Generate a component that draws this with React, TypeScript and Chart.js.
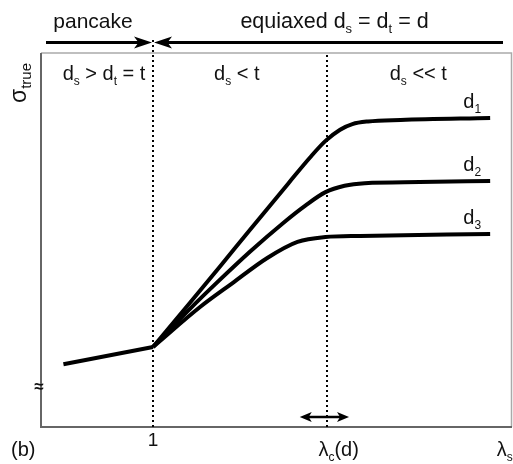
import { useEffect, useRef } from 'react';
import { Chart, registerables } from 'chart.js';

Chart.register(...registerables);

// Schematic data (λ on x, σ_true on y, arbitrary units)
const lambdaPancake = [0.2, 1.0];
const sigmaPancake = [1.68, 2.14];

const lambdaD1 = [1.0, 1.33, 1.6, 1.87, 2.21, 2.4, 2.54, 2.67, 2.78, 2.92, 3.21, 4.01];
const sigmaD1 = [2.14, 3.32, 4.3, 5.29, 6.52, 7.2, 7.65, 7.95, 8.1, 8.17, 8.21, 8.26];

const lambdaD2 = [1.0, 1.33, 1.57, 1.87, 2.16, 2.36, 2.54, 2.71, 2.89, 3.38, 4.01];
const sigmaD2 = [2.14, 3.16, 3.86, 4.7, 5.45, 5.92, 6.28, 6.45, 6.52, 6.55, 6.58];

const lambdaD3 = [1.0, 1.42, 1.71, 2.02, 2.29, 2.54, 2.85, 4.01];
const sigmaD3 = [2.14, 3.21, 3.85, 4.52, 4.95, 5.08, 5.11, 5.16];

const curveLabels = [['d', '1'], ['d', '2'], ['d', '3']];
const boundaryLambda = 1;
const lambdaC = 2.55;
const lambdaCRange = [2.31, 2.75];
const lambdaS = 4.14;
const xTickLabels = ['1', 'λc(d)', 'λs'];

const FONT = '"Liberation Sans", Arial, Helvetica, sans-serif';
const TEXT = '#111';

type Part = [string, boolean];

function richWidth(ctx: CanvasRenderingContext2D, parts: Part[], size: number) {
  let w = 0;
  for (const [t, sub] of parts) {
    ctx.font = `${sub ? Math.round(size * 0.62) : size}px ${FONT}`;
    w += ctx.measureText(t).width;
  }
  return w;
}

function drawRich(
  ctx: CanvasRenderingContext2D,
  parts: Part[],
  x: number,
  y: number,
  size: number,
  align: 'left' | 'center' | 'right' = 'left'
) {
  const w = richWidth(ctx, parts, size);
  let cx = align === 'left' ? x : align === 'center' ? x - w / 2 : x - w;
  ctx.textAlign = 'left';
  ctx.textBaseline = 'alphabetic';
  ctx.fillStyle = TEXT;
  for (const [t, sub] of parts) {
    ctx.font = `${sub ? Math.round(size * 0.62) : size}px ${FONT}`;
    ctx.fillText(t, cx, sub ? y + size * 0.25 : y);
    cx += ctx.measureText(t).width;
  }
}

function arrowHead(ctx: CanvasRenderingContext2D, tipX: number, y: number, dir: number, len: number, half: number) {
  ctx.beginPath();
  ctx.moveTo(tipX, y);
  ctx.lineTo(tipX - dir * len, y - half);
  ctx.lineTo(tipX - dir * len * 0.75, y);
  ctx.lineTo(tipX - dir * len, y + half);
  ctx.closePath();
  ctx.fill();
}

const annot = {
  id: 'annot',
  beforeDatasetsDraw(chart: any) {
    const { ctx, chartArea: ca, scales } = chart;
    const xs = scales.x;
    ctx.save();
    // frame
    ctx.strokeStyle = '#aaa';
    ctx.lineWidth = 1.5;
    ctx.beginPath();
    ctx.moveTo(ca.left, ca.top);
    ctx.lineTo(ca.right - 0.5, ca.top);
    ctx.lineTo(ca.right - 0.5, ca.bottom);
    ctx.stroke();
    ctx.strokeStyle = '#666';
    ctx.lineWidth = 2;
    ctx.beginPath();
    ctx.moveTo(ca.left, ca.top);
    ctx.lineTo(ca.left, ca.bottom);
    ctx.lineTo(ca.right, ca.bottom);
    ctx.stroke();
    // dotted region boundaries
    ctx.strokeStyle = '#000';
    ctx.lineWidth = 2;
    ctx.setLineDash([2, 3]);
    const xb = Math.round(xs.getPixelForValue(boundaryLambda));
    ctx.beginPath();
    ctx.moveTo(xb, Math.round(ca.top - 13));
    ctx.lineTo(xb, ca.bottom);
    ctx.stroke();
    const xc = Math.round(xs.getPixelForValue(lambdaC));
    ctx.beginPath();
    ctx.moveTo(xc, Math.round(ca.top + 2));
    ctx.lineTo(xc, ca.bottom);
    ctx.stroke();
    ctx.restore();
  },
  afterDatasetsDraw(chart: any) {
    const { ctx, chartArea: ca, scales } = chart;
    const xs = scales.x;
    const ys = scales.y;
    ctx.save();
    const xb = xs.getPixelForValue(boundaryLambda);
    const xc = xs.getPixelForValue(lambdaC);

    // top arrows
    const ay = ca.top - 10.5;
    ctx.strokeStyle = '#000';
    ctx.fillStyle = '#000';
    ctx.lineWidth = 3;
    ctx.beginPath();
    ctx.moveTo(ca.left + 5, ay);
    ctx.lineTo(xb - 8, ay);
    ctx.moveTo(xb + 9, ay);
    ctx.lineTo(ca.right - 9, ay);
    ctx.stroke();
    arrowHead(ctx, xb - 1, ay, 1, 18, 6);
    arrowHead(ctx, xb + 1, ay, -1, 18, 6);

    // double arrow at lambda_c
    const dy = ca.bottom - 10;
    const x0 = xs.getPixelForValue(lambdaCRange[0]);
    const x1 = xs.getPixelForValue(lambdaCRange[1]);
    ctx.lineWidth = 2.5;
    ctx.beginPath();
    ctx.moveTo(x0 + 6, dy);
    ctx.lineTo(x1 - 6, dy);
    ctx.stroke();
    arrowHead(ctx, x0, dy, -1, 12, 5);
    arrowHead(ctx, x1, dy, 1, 12, 5);

    // header texts
    drawRich(ctx, [['pancake', false]], (ca.left + xb) / 2 - 4, 28, 21, 'center');
    drawRich(
      ctx,
      [['equiaxed d', false], ['s', true], [' = d', false], ['t', true], [' = d', false]],
      (xb + ca.right) / 2 + 2,
      28,
      21.5,
      'center'
    );

    // region texts
    const ry = ca.top + 27;
    drawRich(ctx, [['d', false], ['s', true], [' > d', false], ['t', true], [' = t', false]], (ca.left + xb) / 2 + 7, ry, 20, 'center');
    drawRich(ctx, [['d', false], ['s', true], [' < t', false]], (xb + xc) / 2 - 3, ry, 20, 'center');
    drawRich(ctx, [['d', false], ['s', true], [' << t', false]], (xc + ca.right) / 2 - 1, ry, 20, 'center');

    // curve labels
    const ends = [
      [lambdaD1[lambdaD1.length - 1], sigmaD1[sigmaD1.length - 1]],
      [lambdaD2[lambdaD2.length - 1], sigmaD2[sigmaD2.length - 1]],
      [lambdaD3[lambdaD3.length - 1], sigmaD3[sigmaD3.length - 1]],
    ];
    ends.forEach(([lx, ly], i) => {
      const px = xs.getPixelForValue(lx);
      const py = ys.getPixelForValue(ly);
      drawRich(ctx, [[curveLabels[i][0], false], [curveLabels[i][1], true]], px - 9, py - 10, 20, 'right');
    });

    // y-axis title (rotated)
    ctx.save();
    ctx.translate(26, ca.top + 30);
    ctx.rotate(-Math.PI / 2);
    ctx.font = `23px ${FONT}`;
    const sw = ctx.measureText('σ').width;
    ctx.font = `15px ${FONT}`;
    const tw = ctx.measureText('true').width;
    ctx.fillStyle = TEXT;
    ctx.textAlign = 'left';
    ctx.font = `23px ${FONT}`;
    ctx.fillText('σ', -(sw + tw) / 2, 0);
    ctx.font = `15px ${FONT}`;
    ctx.fillText('true', -(sw + tw) / 2 + sw, 5);
    ctx.restore();

    // axis break mark
    ctx.font = `bold 17px ${FONT}`;
    ctx.textAlign = 'center';
    ctx.textBaseline = 'middle';
    ctx.fillStyle = TEXT;
    ctx.fillText('≈', ca.left - 2, ca.bottom - 40);

    // x tick labels
    const ty = ca.bottom + 19;
    drawRich(ctx, [[xTickLabels[0], false]], xb, ty, 19, 'center');
    drawRich(ctx, [['λ', false], ['c', true], ['(d)', false]], xc + 12, ty + 10, 20, 'center');
    drawRich(ctx, [['λ', false], ['s', true]], xs.getPixelForValue(lambdaS), ty + 10, 20, 'center');
    drawRich(ctx, [['(b)', false]], 11, ty + 10, 20, 'left');

    ctx.restore();
  },
};

function pts(xv: number[], yv: number[]) {
  return xv.map((x, i) => ({ x, y: yv[i] }));
}

export default function App() {
  const ref = useRef<HTMLCanvasElement>(null);
  useEffect(() => {
    document.body.style.margin = '0';
    const common = {
      borderColor: '#000',
      backgroundColor: '#000',
      borderWidth: 4,
      pointRadius: 0,
      fill: false,
    };
    const chart = new Chart(ref.current as HTMLCanvasElement, {
      type: 'line',
      data: {
        datasets: [
          { ...common, label: 'pancake', data: pts(lambdaPancake, sigmaPancake), tension: 0 },
          { ...common, label: 'd1', data: pts(lambdaD1, sigmaD1), cubicInterpolationMode: 'monotone' },
          { ...common, label: 'd2', data: pts(lambdaD2, sigmaD2), cubicInterpolationMode: 'monotone' },
          { ...common, label: 'd3', data: pts(lambdaD3, sigmaD3), cubicInterpolationMode: 'monotone' },
        ] as any,
      },
      options: {
        responsive: false,
        animation: false,
        devicePixelRatio: 1,
        layout: { padding: { left: 41, right: 1, top: 53, bottom: 37 } },
        scales: {
          x: { type: 'linear', min: 0, max: 4.205, display: false },
          y: { type: 'linear', min: 0, max: 10, display: false },
        },
        plugins: { legend: { display: false }, tooltip: { enabled: false } },
      },
      plugins: [annot],
    });
    return () => chart.destroy();
  }, []);
  return <canvas ref={ref} width={513} height={464} style={{ display: 'block' }} />;
}
